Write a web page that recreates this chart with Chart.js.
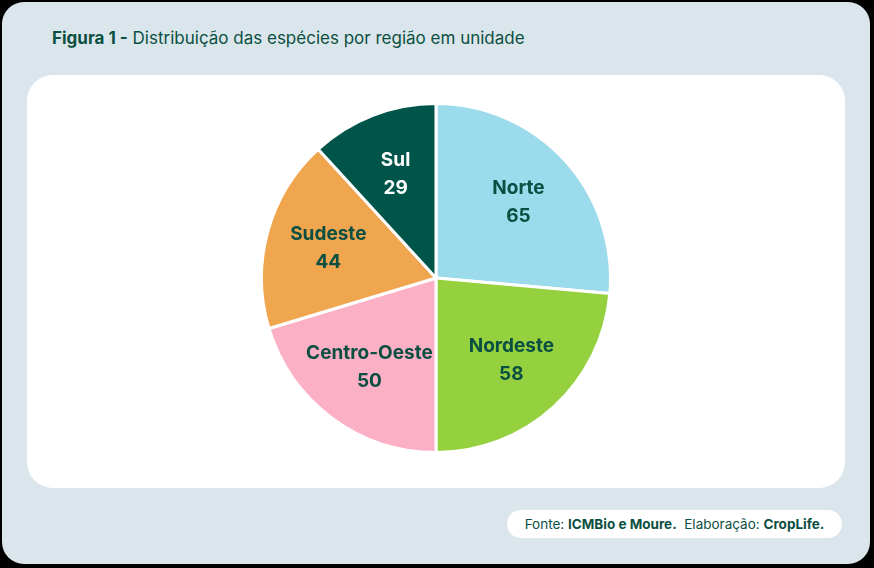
<!DOCTYPE html>
<html><head><meta charset="utf-8">
<script src="https://cdn.jsdelivr.net/npm/chart.js@4"></script>
<style>
body{margin:0;width:874px;height:568px;background:#000;font-family:Inter,"Noto Sans",sans-serif;overflow:hidden}
#card{position:absolute;left:2px;top:2px;width:868px;height:562px;background:#dbe6ec;border-radius:22px}
#title{position:absolute;left:52px;top:28px;font-size:17px;color:#0b4f42}
#white{position:absolute;left:27px;top:75px;width:818px;height:413px;background:#fff;border-radius:26px}
#wrap{position:absolute;left:258px;top:100px;width:356px;height:356px}
#foot{position:absolute;left:507px;top:510px;width:335px;height:28px;background:#fff;border-radius:14px;font-size:13.5px;color:#0b4f42;line-height:28px;text-align:center}
</style></head><body>
<div id="card"></div>
<div id="title"><b>Figura 1 -</b> Distribuição das espécies por região em unidade</div>
<div id="white"></div>
<div id="wrap"><canvas id="c"></canvas></div>
<div id="foot">Fonte: <b>ICMBio e Moure.</b>&nbsp; Elaboração: <b>CropLife.</b></div>
<script>
const categories=["Norte","Nordeste","Centro-Oeste","Sudeste","Sul"];
const values=[65,58,50,44,29];
const colors=["#9cdbec","#95d13f","#fcb0c5","#f0a54f","#00554a"];
const textColors=["#0b4f42","#0b4f42","#0b4f42","#0b4f42","#ffffff"];
const labelPlugin={id:"lbl",afterDatasetsDraw(ch){
 const ctx=ch.ctx;const meta=ch.getDatasetMeta(0);
 meta.data.forEach((a,i)=>{
  const mid=(a.startAngle+a.endAngle)/2, r=a.outerRadius*0.64;
  const x=a.x+Math.cos(mid)*r, y=a.y+Math.sin(mid)*r;
  ctx.save();ctx.fillStyle=textColors[i];ctx.textAlign="center";ctx.textBaseline="middle";
  ctx.font="bold 19px Inter, 'Noto Sans', sans-serif";
  ctx.fillText(categories[i],x,y-14);
  ctx.fillText(String(values[i]),x,y+14);
  ctx.restore();
 });
}};
new Chart(document.getElementById("c"),{type:"pie",
 data:{labels:categories,datasets:[{data:values,backgroundColor:colors,borderColor:"#fff",borderWidth:3}]},
 options:{responsive:true,maintainAspectRatio:false,animation:false,layout:{padding:2},
  plugins:{legend:{display:false},tooltip:{enabled:false}}},
 plugins:[labelPlugin]});
</script></body></html>
